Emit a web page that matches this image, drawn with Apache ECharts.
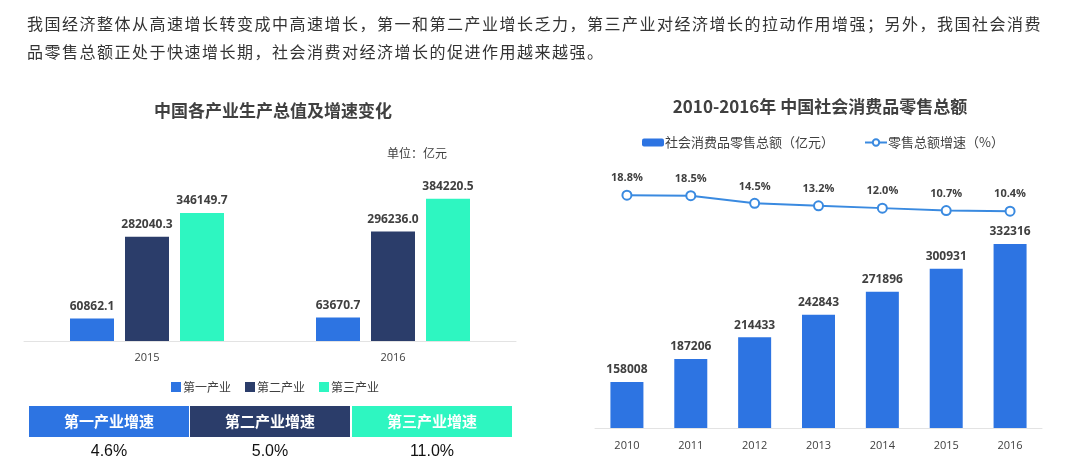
<!DOCTYPE html>
<html><head><meta charset="utf-8">
<script src="https://cdn.jsdelivr.net/npm/echarts@6/dist/echarts.min.js"></script>
<style>
html,body{margin:0;padding:0;background:#fff;}
#para{position:absolute;left:27px;top:9px;width:1040px;font-family:"Noto Sans CJK SC","Noto Sans",sans-serif;font-size:16px;letter-spacing:1.5px;line-height:28px;color:#333;white-space:nowrap;}
#chart{position:absolute;left:0;top:0;width:1067px;height:475px;}
</style></head>
<body>
<div id="chart"></div>
<div id="para">我国经济整体从高速增长转变成中高速增长，第一和第二产业增长乏力，第三产业对经济增长的拉动作用增强；另外，我国社会消费<br>品零售总额正处于快速增长期，社会消费对经济增长的促进作用越来越强。</div>
<script>
// ---- Left chart data ----
const leftYears = ['2015', '2016'];
const industryNames = ['第一产业', '第二产业', '第三产业'];
const primaryValues = [60862.1, 63670.7];
const secondaryValues = [282040.3, 296236.0];
const tertiaryValues = [346149.7, 384220.5];
const growthLabels = ['第一产业增速', '第二产业增速', '第三产业增速'];
const growthValues = ['4.6%', '5.0%', '11.0%'];

// ---- Right chart data ----
const rightYears = ['2010', '2011', '2012', '2013', '2014', '2015', '2016'];
const retailValues = [158008, 187206, 214433, 242843, 271896, 300931, 332316];
const retailGrowth = [18.8, 18.5, 14.5, 13.2, 12.0, 10.7, 10.4];

const C_BLUE = '#2d74e2', C_NAVY = '#2b3d6a', C_GREEN = '#2ef6c1', C_LINE = '#3a8ae0';
const TXT = '#404040';
const FONT = '"Open Sans","Noto Sans CJK SC",sans-serif';
const CJK = '"Noto Sans CJK SC","Noto Sans",sans-serif';

const chart = echarts.init(document.getElementById('chart'));

const industrySeries = [primaryValues, secondaryValues, tertiaryValues];
const industryColors = [C_BLUE, C_NAVY, C_GREEN];

const graphics = [];
const cellX = [29, 190, 352], cellW = 160;
growthLabels.forEach((lab, i) => {
  graphics.push({type: 'rect', left: cellX[i], top: 406, shape: {width: cellW, height: 31}, style: {fill: industryColors[i]}});
  graphics.push({type: 'text', x: cellX[i] + cellW / 2, y: 421.5, style: {text: lab, fill: '#fff', font: 'bold 15px ' + CJK, textAlign: 'center', textVerticalAlign: 'middle'}});
  graphics.push({type: 'text', x: cellX[i] + cellW / 2, y: 452, style: {text: growthValues[i], fill: '#111', font: '16px "Liberation Sans",Arial,sans-serif', textAlign: 'center', textVerticalAlign: 'middle'}});
});
graphics.push({type: 'text', x: 387, y: 153, style: {text: '单位：亿元', fill: TXT, font: '12px ' + CJK, textVerticalAlign: 'middle'}});

const option = {
  animation: false,
  textStyle: {fontFamily: CJK},
  title: [
    {text: '中国各产业生产总值及增速变化', left: 268, top: 97, textAlign: 'center',
     textStyle: {fontSize: 17, fontWeight: 'bold', color: TXT, fontFamily: CJK}},
    {text: '2010-2016年 中国社会消费品零售总额', left: 815, top: 93, textAlign: 'center',
     textStyle: {fontSize: 17, fontWeight: 'bold', color: TXT, fontFamily: CJK}}
  ],
  legend: [
    {data: industryNames, left: 166, top: 376, icon: 'rect', itemWidth: 10, itemHeight: 10, itemGap: 14,
     textStyle: {fontSize: 12, color: TXT, fontFamily: CJK, padding: [0, 0, 0, -3]}},
    {data: ['社会消费品零售总额（亿元）', '零售总额增速（%）'], left: 637, top: 131, itemWidth: 22, itemHeight: 8, itemGap: 30,
     textStyle: {fontSize: 13, color: TXT, fontFamily: CJK, padding: [0, 0, 0, -4]}}
  ],
  grid: [
    {left: 24, width: 492, top: 156, height: 185},
    {left: 595, width: 447, top: 230, height: 198},
    {left: 595, width: 447, top: 170, height: 61}
  ],
  xAxis: [
    {type: 'category', gridIndex: 0, data: leftYears, axisTick: {show: false},
     axisLine: {lineStyle: {color: '#e3e3e3'}}, axisLabel: {color: TXT, fontSize: 11, margin: 11, fontFamily: FONT}},
    {type: 'category', gridIndex: 1, data: rightYears, axisTick: {show: false},
     axisLine: {lineStyle: {color: '#e3e3e3'}}, axisLabel: {color: TXT, fontSize: 11, margin: 12, fontFamily: FONT}},
    {type: 'category', gridIndex: 2, data: rightYears, show: false}
  ],
  yAxis: [
    {type: 'value', gridIndex: 0, min: 0, max: 500000, show: false},
    {type: 'value', gridIndex: 1, min: 100000, max: 350000, show: false},
    {type: 'value', gridIndex: 2, min: 0, max: 32, show: false}
  ],
  series: [
    ...industryNames.map((n, i) => ({
      name: n, type: 'bar', xAxisIndex: 0, yAxisIndex: 0, data: industrySeries[i],
      barWidth: 44, barGap: '25%', itemStyle: {color: industryColors[i]},
      label: {show: true, position: 'top', distance: 6, color: TXT, fontSize: 12, fontWeight: 'bold', fontFamily: FONT,
              formatter: p => p.value.toFixed(1)}
    })),
    {name: '社会消费品零售总额（亿元）', type: 'bar', xAxisIndex: 1, yAxisIndex: 1, data: retailValues,
     barWidth: 33, itemStyle: {color: C_BLUE},
     label: {show: true, position: 'top', distance: 6, color: TXT, fontSize: 12, fontWeight: 'bold', fontFamily: FONT}},
    {name: '零售总额增速（%）', type: 'line', xAxisIndex: 2, yAxisIndex: 2, data: retailGrowth,
     symbol: 'circle', symbolSize: 9, lineStyle: {color: C_LINE, width: 2},
     itemStyle: {color: '#fff', borderColor: C_LINE, borderWidth: 2},
     label: {show: true, position: 'top', distance: 6, color: TXT, fontSize: 11, fontWeight: 'bold', fontFamily: FONT,
             formatter: p => p.value.toFixed(1) + '%'}}
  ],
  graphic: graphics
};
chart.setOption(option);
</script>
</body></html>
